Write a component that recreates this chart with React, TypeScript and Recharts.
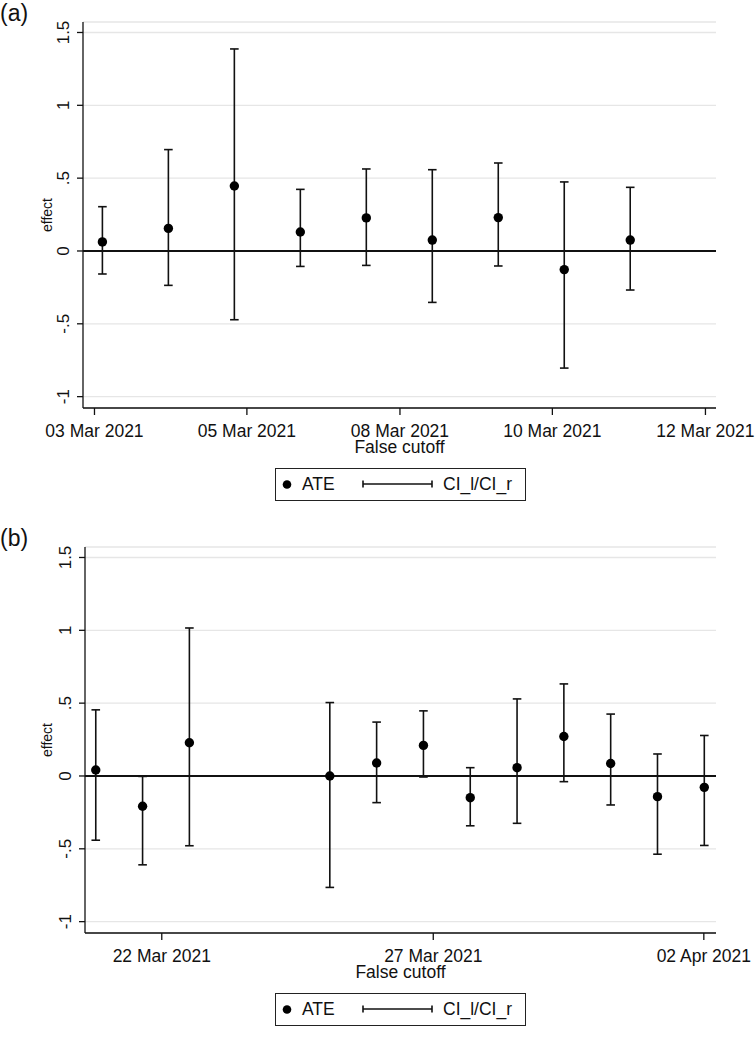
import React from "react";
import {
    ComposedChart,
    Scatter,
    ErrorBar,
    XAxis,
    YAxis,
    CartesianGrid,
    ReferenceLine,
    Legend,
} from "recharts";

// panel (a): false cutoff on each day, 03 – 11 Mar 2021 (day of March)
const daysA = [3, 4, 5, 6, 7, 8, 9, 10, 11];
const ateA = [0.062, 0.155, 0.446, 0.13, 0.227, 0.075, 0.229, -0.128, 0.075];
const ciLowA = [-0.158, -0.236, -0.472, -0.106, -0.099, -0.353, -0.103, -0.804, -0.268];
const ciHighA = [0.304, 0.696, 1.387, 0.423, 0.563, 0.558, 0.604, 0.474, 0.437];
const tickPosA = [2.88, 5.19, 7.51, 9.82, 12.14];
const tickLabelsA = ["03 Mar 2021", "05 Mar 2021", "08 Mar 2021", "10 Mar 2021", "12 Mar 2021"];

// panel (b): 20 Mar – 02 Apr 2021 (days counted from 1 Mar, 32 = 01 Apr)
const daysB = [20, 21, 22, 25, 26, 27, 28, 29, 30, 31, 32, 33];
const ateB = [0.041, -0.208, 0.228, 0.0, 0.089, 0.21, -0.149, 0.057, 0.271, 0.086, -0.142, -0.078];
const ciLowB = [-0.441, -0.61, -0.479, -0.765, -0.183, -0.007, -0.342, -0.325, -0.039, -0.199, -0.537, -0.477];
const ciHighB = [0.454, -0.003, 1.016, 0.504, 0.37, 0.447, 0.057, 0.529, 0.632, 0.425, 0.151, 0.278];
const tickPosB = [21.41, 27.21, 32.99];
const tickLabelsB = ["22 Mar 2021", "27 Mar 2021", "02 Apr 2021"];

const yTicks = [-1, -0.5, 0, 0.5, 1, 1.5];
const yTickLabels = ["-1", "-.5", "0", ".5", "1", "1.5"];
const legendLabels = ["ATE", "CI_l/CI_r"];

const FONT = '"Liberation Sans", Arial, Helvetica, sans-serif';
const W = 755;
const H = 525;

function buildRows(days: number[], ate: number[], lo: number[], hi: number[]) {
    return days.map((d, i) => ({
        day: d,
        ate: ate[i],
        ci: [ate[i] - lo[i], hi[i] - ate[i]],
    }));
}

const rowsA = buildRows(daysA, ateA, ciLowA, ciHighA);
const rowsB = buildRows(daysB, ateB, ciLowB, ciHighB);

function XTick(props: any) {
    const { x, y, payload, positions, labels } = props;
    const i = positions.indexOf(payload.value);
    return (
        <text x={x} y={y + 21.5} textAnchor="middle" fontFamily={FONT} fontSize={17.5} fill="#111">
            {labels[i]}
        </text>
    );
}

function YTick(props: any) {
    const { x, y, payload } = props;
    const i = yTicks.indexOf(payload.value);
    const bx = x - 8;
    return (
        <text
            x={bx}
            y={y}
            transform={`rotate(-90, ${bx}, ${y})`}
            textAnchor="middle"
            fontFamily={FONT}
            fontSize={17}
            fill="#111"
        >
            {yTickLabels[i]}
        </text>
    );
}

function LegendBox() {
    return (
        <div
            style={{
                position: "relative",
                boxSizing: "border-box",
                width: 251,
                height: 33,
                border: "1px solid #222",
                background: "#fff",
                fontFamily: FONT,
                fontSize: 17.5,
                color: "#111",
            }}
        >
            <svg width={251} height={33} style={{ position: "absolute", left: -1, top: -1 }}>
                <circle cx={12} cy={16.5} r={4.3} fill="#000" />
                <line x1={88} y1={16} x2={157} y2={16} stroke="#111" strokeWidth={1.4} />
                <line x1={88} y1={12.5} x2={88} y2={19.5} stroke="#111" strokeWidth={1.6} />
                <line x1={157} y1={12.5} x2={157} y2={19.5} stroke="#111" strokeWidth={1.6} />
            </svg>
            <span style={{ position: "absolute", left: 26, top: 5, lineHeight: "20px" }}>{legendLabels[0]}</span>
            <span style={{ position: "absolute", left: 167, top: 5, lineHeight: "20px" }}>{legendLabels[1]}</span>
        </div>
    );
}

function Panel({ tag, rows, domain, ticks, labels, yAxisWidth }: any) {
    return (
        <div style={{ position: "relative", width: W, height: H }}>
            <ComposedChart
                width={W}
                height={H}
                data={rows}
                margin={{ top: 22, right: W - 716, bottom: 0, left: 0 }}
            >
                <CartesianGrid vertical={false} stroke="#e6e6e6" strokeWidth={1.3} />
                <XAxis
                    type="number"
                    dataKey="day"
                    domain={domain}
                    ticks={ticks}
                    interval={0}
                    allowDataOverflow
                    height={117}
                    tickSize={7}
                    tickMargin={0}
                    stroke="#111"
                    strokeWidth={1.3}
                    tick={<XTick positions={ticks} labels={labels} />}
                    label={(p: any) => (
                        <text
                            x={p.viewBox.x + p.viewBox.width / 2}
                            y={p.viewBox.y + 45}
                            textAnchor="middle"
                            fontFamily={FONT}
                            fontSize={17.5}
                            fill="#111"
                        >
                            False cutoff
                        </text>
                    )}
                />
                <YAxis
                    type="number"
                    domain={[-1.078, 1.572]}
                    ticks={yTicks}
                    interval={0}
                    allowDataOverflow
                    width={yAxisWidth}
                    tickSize={6}
                    tickMargin={0}
                    stroke="#111"
                    strokeWidth={1.3}
                    tick={<YTick />}
                    label={(p: any) => {
                        const cx = 51.7;
                        const cy = p.viewBox.y + p.viewBox.height / 2;
                        return (
                            <text
                                x={cx}
                                y={cy}
                                transform={`rotate(-90, ${cx}, ${cy})`}
                                textAnchor="middle"
                                fontFamily={FONT}
                                fontSize={14}
                                fill="#111"
                            >
                                effect
                            </text>
                        );
                    }}
                />
                <ReferenceLine y={0} stroke="#111" strokeWidth={1.8} />
                <Scatter
                    name={legendLabels[0]}
                    dataKey="ate"
                    fill="#000"
                    isAnimationActive={false}
                    shape={(p: any) => <circle cx={p.cx} cy={p.cy} r={4.7} fill="#000" />}
                >
                    <ErrorBar
                        dataKey="ci"
                        direction="y"
                        width={4.3}
                        stroke="#111"
                        strokeWidth={1.6}
                        isAnimationActive={false}
                    />
                </Scatter>
                <Legend
                    verticalAlign="middle"
                    align="center"
                    content={() => <LegendBox />}
                    wrapperStyle={{ left: 275, top: 468, width: 251, height: 33 }}
                />
            </ComposedChart>
            <div
                style={{
                    position: "absolute",
                    left: 0,
                    top: 0,
                    fontFamily: FONT,
                    fontSize: 23,
                    lineHeight: "normal",
                    color: "#111",
                }}
            >
                {tag}
            </div>
        </div>
    );
}

export default function App() {
    return (
        <div style={{ position: "absolute", left: 0, top: 0, width: W, height: 1054, background: "#fff" }}>
            <Panel
                tag="(a)"
                rows={rowsA}
                domain={[2.706, 12.3]}
                ticks={tickPosA}
                labels={tickLabelsA}
                yAxisWidth={83}
            />
            <Panel
                tag="(b)"
                rows={rowsB}
                domain={[19.77, 33.25]}
                ticks={tickPosB}
                labels={tickLabelsB}
                yAxisWidth={85}
            />
        </div>
    );
}
